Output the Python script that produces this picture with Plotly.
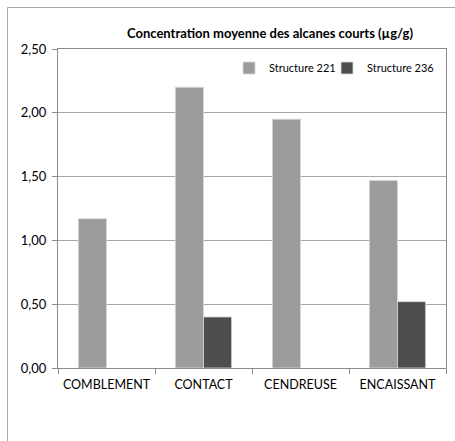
import plotly.graph_objects as go

categories = ["COMBLEMENT", "CONTACT", "CENDREUSE", "ENCAISSANT"]
s221 = [1.17, 2.20, 1.95, 1.47]
s236 = [None, 0.40, None, 0.52]
series_names = ["Structure 221", "Structure 236"]
y_ticks = [0, 0.5, 1.0, 1.5, 2.0, 2.5]

W, H = 455, 441
# plot area in screen pixels: x 58..446, y 49..368
L, R, T, B = 58, 455 - 446, 49, 441 - 368
pw, ph = W - L - R, H - T - B

def px(x):
    return (x - L) / pw

def py(y):
    return (H - B - y) / ph

fig = go.Figure()
fig.add_bar(x=categories, y=s221, name=series_names[0], legend="legend",
            marker=dict(color="#9c9c9c", line=dict(color="#d8d8d8", width=0.8)))
fig.add_bar(x=categories, y=s236, name=series_names[1], legend="legend2",
            marker=dict(color="#4e4e4e", line=dict(color="#d8d8d8", width=0.8)))

leg_common = dict(orientation="h", yanchor="middle", xanchor="left",
                  font=dict(size=11), bgcolor="rgba(0,0,0,0)", itemwidth=30)

fig.update_layout(
    width=W, height=H,
    margin=dict(l=L, r=R, t=T, b=B, autoexpand=False),
    paper_bgcolor="white", plot_bgcolor="white",
    separators=", ",
    barmode="group", bargap=0.42, bargroupgap=0,
    font=dict(family="Lato, Open Sans, sans-serif", color="#000000"),
    title=dict(text="<b>Concentration moyenne des alcanes courts (µg/g)</b>",
               font=dict(size=13), x=270 / W, xanchor="center",
               y=1 - 33 / H, yanchor="middle", automargin=False),
    legend=dict(x=px(229), y=py(68), **leg_common),
    legend2=dict(x=px(327), y=py(68), **leg_common),
    showlegend=True,
    xaxis=dict(showline=True, linecolor="#8c8c8c", linewidth=1, mirror=True,
               ticks="outside", tickson="boundaries", ticklen=5, tickcolor="#8c8c8c",
               tickfont=dict(size=12.5), showgrid=False, tickangle=0, automargin=False,
               ticklabelstandoff=5),
    yaxis=dict(range=[0, 2.5], tickvals=y_ticks, tickformat=".2f",
               showline=True, linecolor="#8c8c8c", linewidth=1, mirror=True,
               ticks="outside", ticklen=5, tickcolor="#8c8c8c",
               gridcolor="#a8a8a8", gridwidth=1, zeroline=False,
               tickfont=dict(size=13), ticklabelstandoff=3, automargin=False),
    shapes=[dict(type="rect", xref="paper", yref="paper",
                 x0=px(7.5), x1=px(470), y0=py(460), y1=py(7.5),
                 line=dict(color="#a8a8a8", width=1), fillcolor="rgba(0,0,0,0)",
                 layer="below")],
)

fig.write_html("out.html", config={"displayModeBar": False},
               post_script="document.body.style.margin='0px';")
